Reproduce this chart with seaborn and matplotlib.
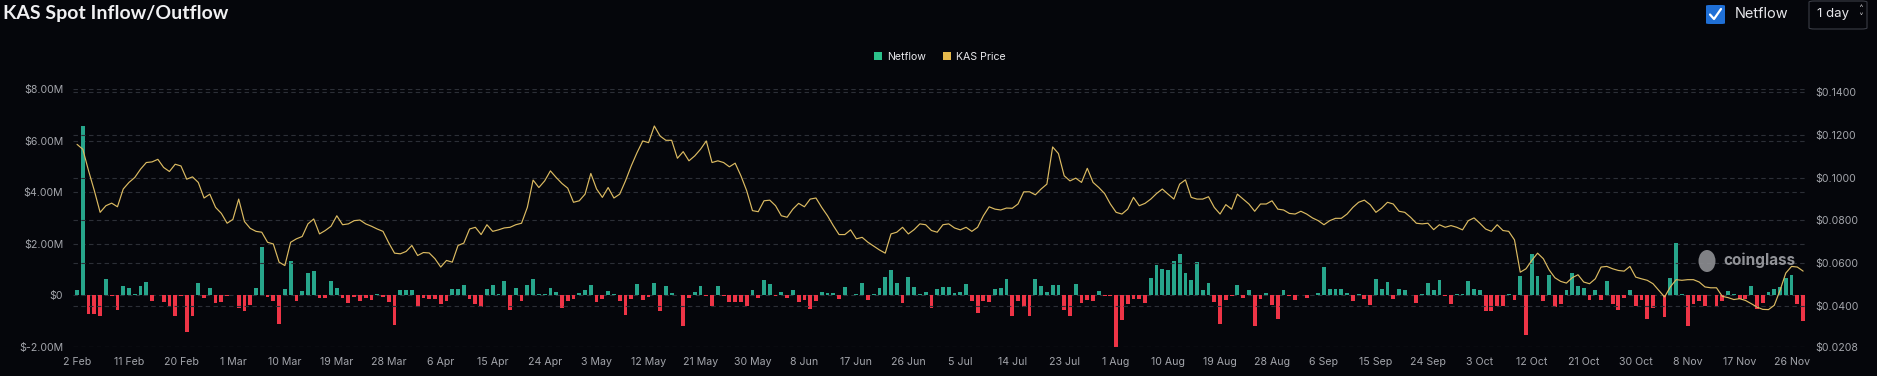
import matplotlib
matplotlib.use('Agg')
import matplotlib.pyplot as plt
from matplotlib.patches import FancyBboxPatch, Ellipse, Patch
from matplotlib.lines import Line2D
import seaborn as sns
import pandas as pd
import numpy as np

# daily netflow ($M), 2 Feb -> 28 Nov
netflow = [
    0.22, 6.55, -0.74, -0.74, -0.78, 0.65, -0.03, -0.55, 0.36, 0.27,
    0.06, 0.37, 0.52, -0.22, 0.03, -0.26, -0.45, -0.78, -0.04, -1.42,
    -0.81, 0.47, -0.12, 0.27, -0.30, -0.27, -0.02, 0.03, -0.49, -0.61,
    -0.39, 0.27, 1.89, -0.06, -0.22, -1.10, 0.23, 1.34, -0.22, 0.17,
    0.85, 0.96, -0.12, -0.12, 0.57, 0.30, -0.10, -0.30, -0.05, -0.21,
    -0.09, -0.17, 0.04, -0.05, -0.26, -1.16, 0.22, 0.19, 0.19, -0.45,
    -0.12, -0.13, -0.15, -0.35, -0.20, 0.25, 0.25, 0.41, -0.13, -0.35,
    -0.45, 0.25, 0.40, 0.04, 0.54, -0.58, 0.27, -0.22, 0.39, 0.65,
    0.05, 0.04, 0.30, 0.13, -0.49, -0.23, -0.13, 0.09, 0.19, 0.40,
    -0.26, -0.13, 0.17, 0.06, -0.22, -0.75, -0.13, 0.45, -0.19, -0.06,
    0.50, -0.61, 0.37, 0.10, 0.00, -1.20, -0.09, 0.15, 0.37, -0.03,
    -0.41, 0.35, -0.04, -0.26, -0.26, -0.26, -0.43, 0.22, -0.09, 0.58,
    0.43, -0.04, 0.12, -0.09, 0.22, -0.25, -0.19, -0.53, -0.22, 0.14,
    0.09, 0.09, -0.13, 0.31, 0.00, 0.04, 0.50, -0.16, 0.05, 0.27,
    0.70, 0.97, 0.49, -0.30, 0.71, 0.32, 0.04, 0.15, -0.50, 0.26,
    0.31, 0.34, 0.09, 0.12, 0.44, -0.23, -0.68, -0.22, -0.26, 0.26,
    0.30, 0.62, -0.80, -0.22, -0.45, -0.80, 0.63, 0.35, 0.12, 0.39,
    0.39, -0.58, -0.80, 0.45, -0.30, -0.17, -0.21, 0.17, -0.04, -0.04,
    -2.00, -0.97, -0.32, -0.14, -0.14, -0.30, 0.66, 1.19, 1.03, 0.99,
    1.32, 1.61, 0.85, 0.58, 1.28, 0.22, 0.49, -0.27, -1.11, -0.19,
    -0.04, 0.39, -0.12, 0.19, -1.19, -0.14, 0.10, -0.39, -0.92, 0.22,
    -0.04, -0.17, 0.00, -0.09, 0.03, 0.10, 1.12, 0.26, 0.23, 0.23,
    0.09, -0.22, 0.04, -0.14, -0.37, 0.65, 0.23, 0.52, -0.14, 0.25,
    0.22, 0.00, -0.28, 0.04, 0.49, 0.22, 0.58, -0.04, -0.35, 0.06,
    0.06, 0.57, 0.25, 0.22, -0.61, -0.61, -0.43, -0.43, 0.06, -0.19,
    0.75, -1.52, 1.60, 0.74, -0.22, 0.78, -0.45, -0.32, 0.22, 0.87,
    0.36, 0.28, -0.19, 0.19, -0.17, 0.54, -0.35, -0.58, -0.09, 0.19,
    -0.43, -0.17, -0.93, -0.50, 0.00, -0.84, 0.67, 2.02, 0.06, -1.19,
    -0.32, -0.22, -0.43, 0.00, -0.43, -0.22, 0.17, 0.04, -0.14, -0.14,
    0.35, -0.52, -0.30, 0.13, 0.26, 0.31, 0.67, 0.81, -0.35, -0.99,
]

# daily KAS price ($)
price = [
    0.1156, 0.1133, 0.1032, 0.0939, 0.0838, 0.0869, 0.0881, 0.0864, 0.0947, 0.0978,
    0.1001, 0.1040, 0.1071, 0.1074, 0.1086, 0.1048, 0.1029, 0.1063, 0.1055, 0.0993,
    0.1004, 0.0978, 0.0905, 0.0923, 0.0861, 0.0833, 0.0787, 0.0805, 0.0900, 0.0795,
    0.0763, 0.0749, 0.0745, 0.0698, 0.0690, 0.0605, 0.0589, 0.0698, 0.0714, 0.0725,
    0.0784, 0.0807, 0.0737, 0.0753, 0.0773, 0.0822, 0.0780, 0.0784, 0.0799, 0.0802,
    0.0784, 0.0773, 0.0760, 0.0749, 0.0695, 0.0647, 0.0644, 0.0655, 0.0683, 0.0636,
    0.0650, 0.0648, 0.0621, 0.0582, 0.0613, 0.0605, 0.0683, 0.0694, 0.0760, 0.0768,
    0.0734, 0.0780, 0.0749, 0.0756, 0.0765, 0.0768, 0.0780, 0.0787, 0.0861, 0.0989,
    0.0954, 0.0985, 0.1032, 0.1001, 0.0973, 0.0951, 0.0885, 0.0892, 0.0923, 0.1020,
    0.0947, 0.0908, 0.0954, 0.0905, 0.0923, 0.0985, 0.1055, 0.1117, 0.1172, 0.1164,
    0.1242, 0.1195, 0.1175, 0.1175, 0.1091, 0.1122, 0.1079, 0.1102, 0.1133, 0.1172,
    0.1071, 0.1079, 0.1071, 0.1051, 0.1068, 0.1009, 0.0939, 0.0846, 0.0841, 0.0892,
    0.0895, 0.0869, 0.0822, 0.0815, 0.0853, 0.0880, 0.0864, 0.0900, 0.0905, 0.0861,
    0.0822, 0.0776, 0.0734, 0.0734, 0.0756, 0.0714, 0.0721, 0.0698, 0.0680, 0.0662,
    0.0647, 0.0737, 0.0745, 0.0768, 0.0737, 0.0757, 0.0784, 0.0780, 0.0753, 0.0745,
    0.0780, 0.0784, 0.0765, 0.0756, 0.0768, 0.0749, 0.0768, 0.0822, 0.0864, 0.0853,
    0.0849, 0.0858, 0.0857, 0.0877, 0.0934, 0.0934, 0.0920, 0.0947, 0.0970, 0.1144,
    0.1113, 0.1009, 0.0985, 0.0998, 0.0978, 0.1044, 0.0978, 0.0954, 0.0926, 0.0877,
    0.0838, 0.0830, 0.0853, 0.0908, 0.0869, 0.0880, 0.0900, 0.0926, 0.0947, 0.0923,
    0.0900, 0.0970, 0.0990, 0.0908, 0.0900, 0.0900, 0.0911, 0.0861, 0.0830, 0.0874,
    0.0853, 0.0923, 0.0900, 0.0877, 0.0843, 0.0877, 0.0877, 0.0892, 0.0853, 0.0849,
    0.0833, 0.0830, 0.0843, 0.0830, 0.0812, 0.0799, 0.0780, 0.0799, 0.0810, 0.0810,
    0.0830, 0.0861, 0.0885, 0.0895, 0.0874, 0.0838, 0.0858, 0.0885, 0.0877, 0.0843,
    0.0838, 0.0815, 0.0787, 0.0784, 0.0787, 0.0757, 0.0780, 0.0768, 0.0776, 0.0768,
    0.0756, 0.0799, 0.0812, 0.0787, 0.0760, 0.0749, 0.0780, 0.0753, 0.0749, 0.0709,
    0.0558, 0.0574, 0.0613, 0.0647, 0.0621, 0.0569, 0.0532, 0.0515, 0.0507, 0.0532,
    0.0546, 0.0512, 0.0504, 0.0527, 0.0582, 0.0585, 0.0574, 0.0566, 0.0563, 0.0585,
    0.0535, 0.0527, 0.0520, 0.0504, 0.0473, 0.0442, 0.0489, 0.0523, 0.0520, 0.0523,
    0.0523, 0.0512, 0.0489, 0.0485, 0.0485, 0.0445, 0.0439, 0.0430, 0.0434, 0.0426,
    0.0411, 0.0395, 0.0384, 0.0383, 0.0403, 0.0473, 0.0554, 0.0585, 0.0582, 0.0563,
]

xtick_labels = ['2 Feb', '11 Feb', '20 Feb', '1 Mar', '10 Mar', '19 Mar', '28 Mar', '6 Apr',
                '15 Apr', '24 Apr', '3 May', '12 May', '21 May', '30 May', '8 Jun', '17 Jun',
                '26 Jun', '5 Jul', '14 Jul', '23 Jul', '1 Aug', '10 Aug', '19 Aug', '28 Aug',
                '6 Sep', '15 Sep', '24 Sep', '3 Oct', '12 Oct', '21 Oct', '30 Oct', '8 Nov',
                '17 Nov', '26 Nov']
left_ticks = [-2, 0, 2, 4, 6, 8]
left_labels = ['$-2.00M', '$0', '$2.00M', '$4.00M', '$6.00M', '$8.00M']
right_ticks = [0.0208, 0.04, 0.06, 0.08, 0.10, 0.12, 0.14]
right_labels = ['$0.0208', '$0.0400', '$0.0600', '$0.0800', '$0.1000', '$0.1200', '$0.1400']

BG = '#05060b'
GREEN = '#27a58b'
RED = '#ee3446'
GOLD = '#dcbb62'
TXT = '#a3a5ab'
GRID = '#2c2f37'

sns.set_theme(style="dark")
plt.rcParams['font.family'] = ['Inter', 'DejaVu Sans']

W, H = 1877, 376
fig = plt.figure(figsize=(W / 100, H / 100), dpi=100, facecolor=BG)
ax = fig.add_axes([73 / W, 1 - 347 / H, (1806 - 73) / W, (347 - 89) / H])
ax.set_facecolor(BG)

df = pd.DataFrame({'day': np.arange(len(netflow)), 'netflow': netflow, 'price': price})
df['side'] = np.where(df['netflow'] >= 0, 'in', 'out')

sns.barplot(data=df, x='day', y='netflow', hue='side', palette={'in': GREEN, 'out': RED},
            native_scale=True, dodge=False, width=0.66, errorbar=None, legend=False,
            saturation=1, ax=ax, zorder=2, edgecolor='none', linewidth=0)
ax.set_xlim(-0.7, 299.5)
ax.set_ylim(-2, 8)
ax.set_yticks(left_ticks)
ax.set_yticklabels(left_labels)
ax.set_xticks(np.arange(0, 9 * len(xtick_labels), 9))
ax.set_xticklabels(xtick_labels)
ax.set_xlabel('')
ax.set_ylabel('')
ax.yaxis.grid(True, color=GRID, ls=(0, (4, 3)), lw=0.8, zorder=0)
ax.xaxis.grid(False)
ax.set_axisbelow(True)

ax2 = ax.twinx()
sns.lineplot(data=df, x='day', y='price', ax=ax2, color=GOLD, lw=0.85)
ax2.set_ylim(0.0208, 0.1415)
ax2.set_yticks(right_ticks)
ax2.set_yticklabels(right_labels)
ax2.set_ylabel('')
ax2.yaxis.grid(True, color=GRID, ls=(0, (4, 3)), lw=0.8)
ax2.xaxis.grid(False)

for a in (ax, ax2):
    for s in a.spines.values():
        s.set_visible(False)
    a.tick_params(colors=TXT, labelsize=7.6, length=0, pad=7)
    for lab in a.get_xticklabels() + a.get_yticklabels():
        lab.set_color(TXT)

def fx(x):
    return x / W

def fy(y):
    return 1 - y / H

# title and header controls
fig.text(fx(3), fy(14), 'KAS Spot Inflow/Outflow', fontsize=14, fontweight='bold',
         color='#f0f0f2', va='center', ha='left', family=['Lato', 'DejaVu Sans'])
fig.patches.append(FancyBboxPatch((fx(1706), fy(24)), 19 / W, 19 / H,
                                  boxstyle='round,pad=0,rounding_size=0.002',
                                  transform=fig.transFigure, facecolor='#1f6fd6',
                                  edgecolor='none'))
fig.lines.append(Line2D([fx(1710), fx(1714), fx(1721)], [fy(14.5), fy(19), fy(9)],
                        transform=fig.transFigure, color='white', lw=1.6))
fig.text(fx(1735), fy(14), 'Netflow', fontsize=10.5, color='#e6e6ea', va='center', ha='left')
fig.patches.append(FancyBboxPatch((fx(1809), fy(29)), 58 / W, 28 / H,
                                  boxstyle='round,pad=0,rounding_size=0.003',
                                  transform=fig.transFigure, facecolor=BG,
                                  edgecolor='#3a3d46', lw=0.8))
fig.text(fx(1817), fy(14), '1 day', fontsize=9.5, color='#e6e6ea', va='center', ha='left')
fig.text(fx(1861), fy(10), '\u02c4', fontsize=7, color='#c8c8cc', va='center', ha='center',
         family='DejaVu Sans')
fig.text(fx(1861), fy(18), '\u02c5', fontsize=7, color='#c8c8cc', va='center', ha='center',
         family='DejaVu Sans')

# legend
handles = [Patch(facecolor='#2bc08a', edgecolor='none', label='Netflow'),
           Patch(facecolor='#e6b94c', edgecolor='none', label='KAS Price')]
fig.legend(handles=handles, loc='center', bbox_to_anchor=(fx(940), fy(57)), ncol=2,
           frameon=False, fontsize=7.6, labelcolor='#e8e8ec', handlelength=0.75,
           handleheight=0.75, handletextpad=0.5, columnspacing=1.6)

# watermark
fig.patches.append(Ellipse((fx(1707), fy(261)), 17 / W, 22 / H, transform=fig.transFigure,
                           facecolor='#8e8f93', edgecolor='none', alpha=0.9, zorder=5))
fig.text(fx(1723), fy(260), 'coinglass', fontsize=11, fontweight='bold', color='#9a9ba0',
         va='center', ha='left', alpha=0.95)

fig.savefig('out.png', dpi=100, facecolor=BG)
